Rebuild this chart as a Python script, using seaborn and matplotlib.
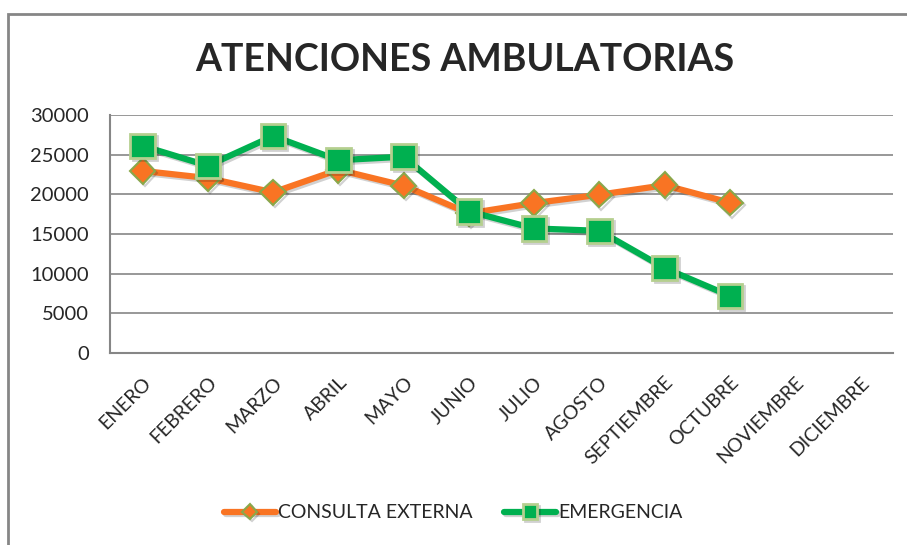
import numpy as np
import pandas as pd
import matplotlib
matplotlib.use("Agg")
import matplotlib.pyplot as plt
import matplotlib.patheffects as pe
import seaborn as sns

months = ["ENERO", "FEBRERO", "MARZO", "ABRIL", "MAYO", "JUNIO", "JULIO",
          "AGOSTO", "SEPTIEMBRE", "OCTUBRE", "NOVIEMBRE", "DICIEMBRE"]
consulta = [22950, 22050, 20250, 23100, 21100, 17600, 18900, 19950, 21150, 18950]
emergencia = [26100, 23600, 27350, 24300, 24750, 17850, 15700, 15400, 10700, 7200]
yticks = [0, 5000, 10000, 15000, 20000, 25000, 30000]

sns.set_theme(style="white")
plt.rcParams['font.family'] = ['Lato', 'DejaVu Sans']

fig = plt.figure(figsize=(9.07, 5.45), dpi=100)
ax = fig.add_axes([110/907, 1-353/545, 783/907, 238/545])

df_c = pd.DataFrame({"x": np.arange(len(consulta)), "v": consulta})
df_e = pd.DataFrame({"x": np.arange(len(emergencia)), "v": emergencia})

orange = "#F97423"
green = "#00B050"
shadow = [pe.SimpleLineShadow(offset=(1.5, -1.5), alpha=0.2), pe.Normal()]

sns.lineplot(data=df_c, x="x", y="v", ax=ax, color=orange, linewidth=4.5,
             marker="D", markersize=13, markerfacecolor=orange,
             markeredgecolor="#8AA84A", markeredgewidth=1.5,
             label="CONSULTA EXTERNA", zorder=3, path_effects=shadow)
sns.lineplot(data=df_e, x="x", y="v", ax=ax, color=green, linewidth=4.5,
             marker="s", markersize=17.5, markerfacecolor=green,
             markeredgecolor="#B5CF8F", markeredgewidth=2,
             label="EMERGENCIA", zorder=4, path_effects=shadow)

ax.set_xlim(-0.5, 11.5)
ax.set_ylim(0, 30000)
ax.set_yticks(yticks)
ax.set_yticklabels([str(t) for t in yticks], fontsize=14.5)
ax.set_xticks(np.arange(len(months)))
ax.set_xticklabels(months, fontsize=14, rotation=45, ha="right",
                   rotation_mode="anchor")
ax.tick_params(axis="x", pad=15, length=0)
ax.tick_params(axis="y", pad=15, length=0)
ax.set_xlabel("")
ax.set_ylabel("")
ax.yaxis.grid(True, color="#868686", linewidth=1.2)
ax.set_axisbelow(True)
for s in ["top", "right"]:
    ax.spines[s].set_visible(False)
for s in ["left", "bottom"]:
    ax.spines[s].set_color("#868686")
    ax.spines[s].set_linewidth(1.5)

fig.text(465/907, 1-60/545, "ATENCIONES AMBULATORIAS", fontsize=27,
         fontweight="bold", ha="center", va="center")

leg = ax.legend(loc="center", bbox_to_anchor=(453/907, 1-513/545),
                bbox_transform=fig.transFigure, ncol=2, frameon=False,
                fontsize=14, handlelength=2.7, handletextpad=0.1,
                columnspacing=1.6, markerscale=0.6)

# outer chart border
fig.patches.append(plt.Rectangle((8/907, -0.05), 1.2, 1-14/545+0.05,
                                 transform=fig.transFigure, fill=False,
                                 edgecolor="#868686", linewidth=2))

fig.savefig("out.png", dpi=100)
